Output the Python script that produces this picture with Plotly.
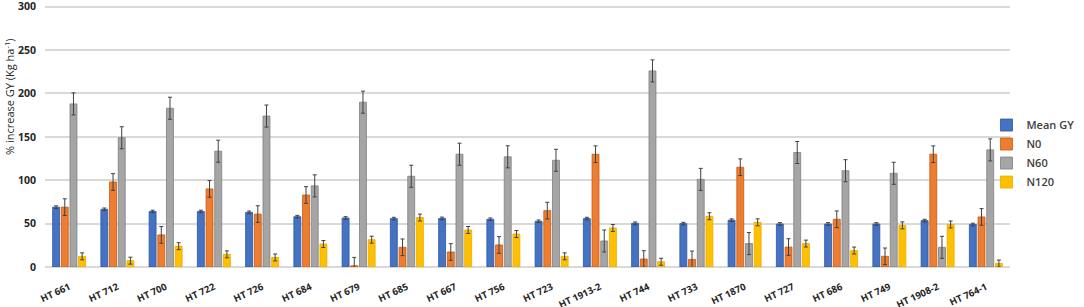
import plotly.graph_objects as go

categories = ["HT 661", "HT 712", "HT 700", "HT 722", "HT 726", "HT 684", "HT 679",
              "HT 685", "HT 667", "HT 756", "HT 723", "HT 1913-2", "HT 744", "HT 733",
              "HT 1870", "HT 727", "HT 686", "HT 749", "HT 1908-2", "HT 764-1"]

mean_gy = [69, 66.5, 64, 64, 63, 58, 56.5, 55.8, 56, 55, 52.7, 55.8, 50.4, 50, 54, 49.6, 49.6, 49.6, 53.5, 49]
n0 = [69, 98, 37, 90, 61, 83, 1.5, 22.7, 17.3, 25.4, 65, 130, 9.2, 8.8, 115, 23, 55, 12.3, 130, 57.7]
n60 = [188, 149, 183, 133.5, 174, 93.5, 190, 104.6, 130, 127, 123, 30, 226, 101, 27, 132, 111, 108, 22.7, 135]
n120 = [12.3, 7.3, 24, 14.6, 11, 26.5, 31.5, 57, 42.7, 38, 12.3, 45, 6, 58.5, 51.5, 27, 19, 48, 49, 4]

err_mean = [1.5] * 20
err_n0 = [9.6] * 20
err_n60 = [12.7] * 20
err_n120 = [4] * 20

y_ticks = [0, 50, 100, 150, 200, 250, 300]

series = [
    ("Mean GY", mean_gy, err_mean, "#4472C4", "#2F5597"),
    ("N0", n0, err_n0, "#ED7D31", "#C55A11"),
    ("N60", n60, err_n60, "#A5A5A5", "#7F7F7F"),
    ("N120", n120, err_n120, "#FFC000", "#E6AC00"),
]

fig = go.Figure()
for name, vals, errs, col, edge in series:
    fig.add_trace(go.Bar(
        name=name, x=categories, y=vals,
        marker=dict(color=col, line=dict(color=edge, width=0.8)),
        error_y=dict(type="data", array=errs, visible=True,
                     color="#404040", thickness=1, width=2),
    ))

font_family = "Open Sans, Liberation Sans, sans-serif"
fig.update_layout(
    width=1084, height=307,
    margin=dict(l=45, r=71, t=5, b=40),
    paper_bgcolor="white", plot_bgcolor="white",
    barmode="group", bargap=0.28, bargroupgap=0.2,
    font=dict(family=font_family, color="#404040"),
    showlegend=True,
    legend=dict(x=1.072, y=0.433, xanchor="right", yanchor="middle",
                bgcolor="rgba(0,0,0,0)",
                font=dict(size=11, color="#404040", weight=600),
                itemwidth=30, tracegroupgap=2, borderwidth=0),
    xaxis=dict(tickangle=-25, tickfont=dict(size=9.5, color="#262626", weight=700),
               showline=False, ticks="outside", ticklen=10, tickcolor="rgba(0,0,0,0)",
               automargin=False),
    yaxis=dict(range=[0, 302], tickvals=y_ticks,
               showgrid=True, gridcolor="#D9D9D9", gridwidth=1.5,
               zeroline=True, zerolinecolor="#D9D9D9", zerolinewidth=1.5,
               tickfont=dict(size=10.5, color="#262626", weight=700),
               ticks="outside", ticklen=6, tickcolor="rgba(0,0,0,0)",
               ticklabeloverflow="allow", automargin=False),
    annotations=[dict(text="% increase GY (Kg ha<sup>-1</sup>)", textangle=-90,
                      xref="paper", yref="paper", x=-0.037, y=0.65,
                      xanchor="center", yanchor="middle", showarrow=False,
                      font=dict(size=11, color="#262626"))],
)

fig.write_html("out.html", post_script="document.body.style.margin='0';",
               config={"displayModeBar": False})
